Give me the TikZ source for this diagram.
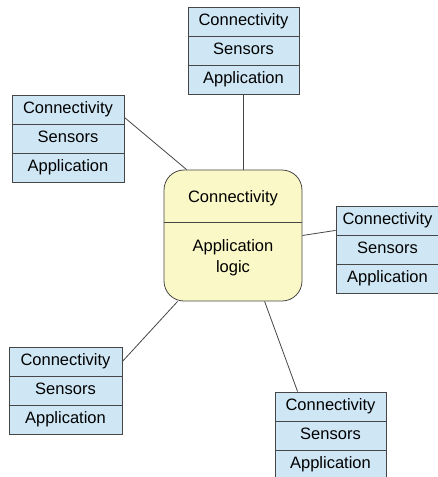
\documentclass[tikz,border=0pt]{standalone}
\usepackage{fontspec}
\setmainfont{Liberation Sans}
\usetikzlibrary{calc}
\definecolor{cellblue}{RGB}{207,231,245}
\definecolor{coreyellow}{RGB}{250,248,198}
\definecolor{edgegray}{RGB}{70,70,70}
\begin{document}
\begin{tikzpicture}[x=1pt,y=-1pt,
  cell/.style={draw=edgegray, fill=cellblue, minimum height=29pt, inner sep=0pt,
    text height=12pt, text depth=3.5pt,
    font=\fontsize{16.5}{19}\selectfont, line width=0.8pt},
  core/.style={draw=edgegray, fill=coreyellow, rounded corners=20pt, line width=0.8pt,
    minimum width=138pt, minimum height=131pt, inner sep=0pt},
  coretext/.style={font=\fontsize{16.5}{21}\selectfont, align=center, inner sep=0pt},
  link/.style={draw=edgegray, line width=0.8pt}]
\useasboundingbox (0,0) rectangle (438,477);

% top box
\node[cell, minimum width=111pt] (t1) at (243.5,21.5) {Connectivity};
\node[cell, minimum width=111pt] (t2) at (243.5,50.5) {Sensors};
\node[cell, minimum width=111pt] (t3) at (243.5,79.5) {Application};

% left top box
\node[cell, minimum width=112pt] (lt1) at (68,109.5) {Connectivity};
\node[cell, minimum width=112pt] (lt2) at (68,138.5) {Sensors};
\node[cell, minimum width=112pt] (lt3) at (68,167.5) {Application};

% right box
\node[cell, minimum width=103pt] (r1) at (387.5,220.5) {Connectivity};
\node[cell, minimum width=103pt] (r2) at (387.5,249.5) {Sensors};
\node[cell, minimum width=103pt] (r3) at (387.5,278.5) {Application};

% bottom left box
\node[cell, minimum width=113pt] (bl1) at (65.5,361.5) {Connectivity};
\node[cell, minimum width=113pt] (bl2) at (65.5,390.5) {Sensors};
\node[cell, minimum width=113pt] (bl3) at (65.5,419.5) {Application};

% bottom right box
\node[cell, minimum width=111pt] (br1) at (330.5,406.5) {Connectivity};
\node[cell, minimum width=111pt] (br2) at (330.5,435.5) {Sensors};
\node[cell, minimum width=111pt] (br3) at (330.5,464.5) {Application};

% center
\node[core] (c) at (233,235.5) {};
\coordinate (dv) at (0,222);
\draw[link] (c.west |- dv) -- (c.east |- dv);
\node[coretext] (c1) at (233,198) {Connectivity};
\node[coretext] (c2) at (233,258) {Application\\logic};

% connectors
\draw[link] (t3.south) -- (t3.south |- c.north);
\draw[link] ($(lt1.south east)+(0,-7)$) -- ($(c.north west)+(23,0)$);
\draw[link] (c.east) -- ($(r1.south west)+(0,-5)$);
\draw[link] ($(c.south west)+(14,0)$) -- (bl1.east);
\draw[link] ($(c.south west)+(101,0)$) -- ($(br1.north west)+(23,0)$);
\end{tikzpicture}
\end{document}
